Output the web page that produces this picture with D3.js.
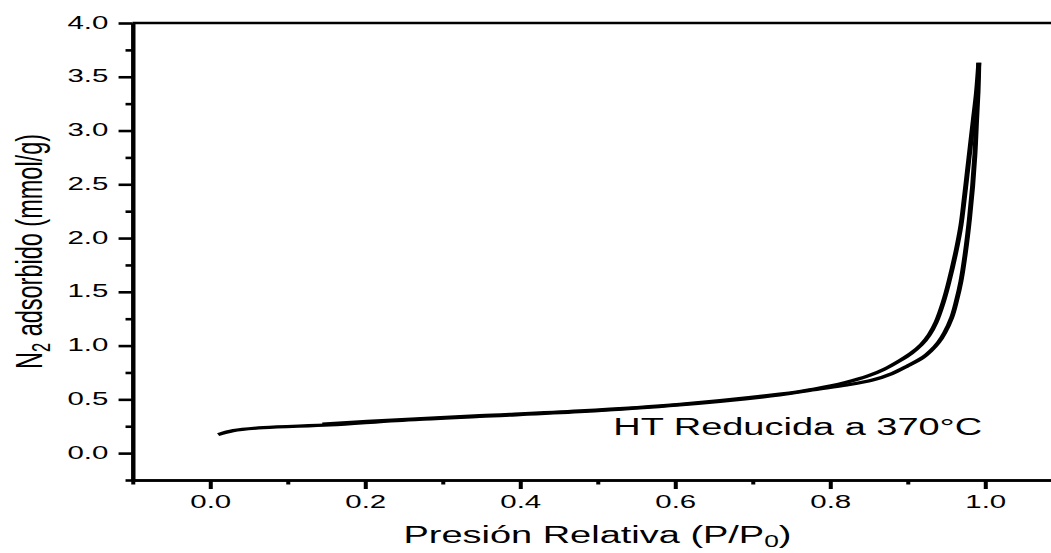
<!DOCTYPE html>
<html>
<head>
<meta charset="utf-8">
<script src="https://cdn.jsdelivr.net/npm/d3@7"></script>
<style>
  html, body { margin: 0; padding: 0; background: #fff; }
  svg { display: block; }
  text { font-family: "Liberation Sans", Arial, sans-serif; fill: #000; }
</style>
</head>
<body>
<div id="chart"></div>
<script>
// N2 physisorption isotherm: adsorption and desorption branches
const adsorptionP = [0.0105, 0.030, 0.069, 0.155, 0.241, 0.348, 0.477, 0.606, 0.735, 0.780, 0.822, 0.855, 0.880, 0.900, 0.920, 0.930, 0.940, 0.948, 0.957, 0.963, 0.969, 0.975, 0.980, 0.984, 0.987, 0.989, 0.991, 0.992];
const adsorptionN = [0.172, 0.209, 0.237, 0.262, 0.302, 0.341, 0.385, 0.448, 0.541, 0.590, 0.634, 0.680, 0.740, 0.810, 0.890, 0.950, 1.030, 1.120, 1.260, 1.410, 1.600, 1.880, 2.180, 2.480, 2.780, 3.080, 3.360, 3.630];

const desorptionP = [0.145, 0.241, 0.348, 0.477, 0.606, 0.735, 0.780, 0.820, 0.850, 0.870, 0.890, 0.905, 0.918, 0.928, 0.937, 0.946, 0.953, 0.963, 0.969, 0.973, 0.977, 0.981, 0.985, 0.989, 0.992];
const desorptionN = [0.270, 0.310, 0.348, 0.392, 0.454, 0.549, 0.597, 0.657, 0.720, 0.780, 0.860, 0.930, 1.010, 1.100, 1.220, 1.400, 1.580, 1.890, 2.120, 2.350, 2.600, 2.850, 3.100, 3.350, 3.630];

const xMajorTicks = [0.0, 0.2, 0.4, 0.6, 0.8, 1.0];
const xMinorTicks = [-0.1, 0.1, 0.3, 0.5, 0.7, 0.9, 1.1];
const yMajorTicks = [0.0, 0.5, 1.0, 1.5, 2.0, 2.5, 3.0, 3.5, 4.0];
const yMinorTicks = [-0.25, 0.25, 0.75, 1.25, 1.75, 2.25, 2.75, 3.25, 3.75];

const sampleLabel = "HT Reducida a 370°C";

// The drawing is laid out in a narrower coordinate space and stretched
// horizontally to fill the page width.
const PAGE_W = 1051, PAGE_H = 553, SX = 1.55;
const W = PAGE_W / SX;

const svg = d3.select("#chart").append("svg")
  .attr("width", PAGE_W)
  .attr("height", PAGE_H)
  .attr("viewBox", `0 0 ${W} ${PAGE_H}`)
  .attr("preserveAspectRatio", "none");

const x = d3.scaleLinear().domain([-0.1, 1.1]).range([132.5 / SX, 1062.5 / SX]);
const y = d3.scaleLinear().domain([-0.25, 4.0]).range([480, 23]);

const AXIS_W = 2.6;
const fmt = d3.format(".1f");

// frame lines (top and right)
svg.append("line")
  .attr("x1", x(-0.1)).attr("x2", x(1.1))
  .attr("y1", y(4.0)).attr("y2", y(4.0))
  .attr("stroke", "#000").attr("stroke-width", AXIS_W);
svg.append("line")
  .attr("x1", x(1.1)).attr("x2", x(1.1))
  .attr("y1", y(4.0)).attr("y2", y(-0.25))
  .attr("stroke", "#000").attr("stroke-width", AXIS_W);

// bottom axis
const gxMinor = svg.append("g").attr("transform", `translate(0,${y(-0.25)})`)
  .call(d3.axisBottom(x).tickValues(xMinorTicks).tickSize(4.5).tickSizeOuter(0).tickFormat(""));
const gx = svg.append("g").attr("transform", `translate(0,${y(-0.25)})`)
  .call(d3.axisBottom(x).tickValues(xMajorTicks).tickSize(9).tickSizeOuter(0).tickPadding(5.8).tickFormat(fmt));

// left axis
const gyMinor = svg.append("g").attr("transform", `translate(${x(-0.1)},0)`)
  .call(d3.axisLeft(y).tickValues(yMinorTicks).tickSize(4.5).tickSizeOuter(0).tickFormat(""));
const gy = svg.append("g").attr("transform", `translate(${x(-0.1)},0)`)
  .call(d3.axisLeft(y).tickValues(yMajorTicks).tickSize(9).tickSizeOuter(0).tickPadding(6.6).tickFormat(fmt));

[gx, gxMinor, gy, gyMinor].forEach(g => {
  g.select(".domain").attr("stroke", "#000").attr("stroke-width", AXIS_W);
  g.selectAll(".tick line").attr("stroke", "#000").attr("stroke-width", AXIS_W);
  g.selectAll(".tick text")
    .attr("font-family", '"Liberation Sans", Arial, sans-serif')
    .attr("font-size", 19)
    .attr("fill", "#000");
});
gy.selectAll(".tick text").attr("dy", "0.27em");

// isotherm branches
const line = d3.line()
  .x(d => x(d[0]))
  .y(d => y(d[1]))
  .curve(d3.curveCatmullRom.alpha(0.5));

const adsorption = d3.zip(adsorptionP, adsorptionN);
const desorption = d3.zip(desorptionP, desorptionN);

svg.append("g")
  .selectAll("path")
  .data([adsorption, desorption])
  .join("path")
  .attr("d", line)
  .attr("fill", "none")
  .attr("stroke", "#000")
  .attr("stroke-width", 3.2)
  .attr("stroke-linejoin", "round");

// sample label
svg.append("text")
  .attr("x", 613.3 / SX)
  .attr("y", 435)
  .attr("font-size", 24.5)
  .text(sampleLabel);

// x-axis title
const xt = svg.append("text")
  .attr("x", x(0.5))
  .attr("y", 543)
  .attr("text-anchor", "middle")
  .attr("font-size", 24.5);
xt.append("tspan").text("Presión Relativa (P/P");
xt.append("tspan").attr("font-size", 17).attr("dy", 4).text("0");
xt.append("tspan").attr("dy", -4).text(")");

// y-axis title
const yt = svg.append("text")
  .attr("transform", `translate(${42 / SX},${(y(4.0) + y(-0.25)) / 2}) rotate(-90)`)
  .attr("text-anchor", "middle")
  .attr("font-size", 23.5);
yt.append("tspan").text("N");
yt.append("tspan").attr("font-size", 16.5).attr("dy", 5).text("2");
yt.append("tspan").attr("dy", -5).text(" adsorbido (mmol/g)");
</script>
</body>
</html>
